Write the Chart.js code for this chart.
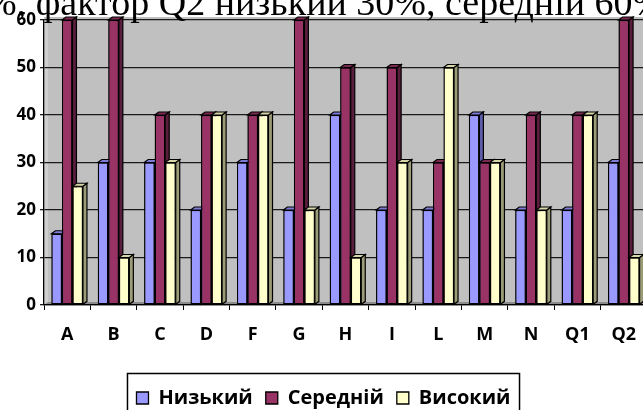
<!DOCTYPE html>
<html>
<head>
<meta charset="utf-8">
<script src="https://cdn.jsdelivr.net/npm/chart.js@4"></script>
<style>
  html, body { margin: 0; padding: 0; background: #fff; overflow: hidden; width: 643px; height: 410px; }
  #wrap { position: relative; width: 643px; height: 410px; overflow: hidden; }
  #title { position: absolute; left: -15px; top: -19px; font-family: "Liberation Serif", "Times New Roman", serif; font-size: 38px; white-space: nowrap; color: #000; line-height: 42px; }
  canvas { position: absolute; left: 0; top: 0; }
</style>
</head>
<body>
<div id="wrap">
  <canvas id="c" width="655" height="418"></canvas>
  <div id="title">%, фактор Q2 низький 30%, середній 60%</div>
</div>
<script>
const categories = ["A", "B", "C", "D", "F", "G", "H", "I", "L", "M", "N", "Q1", "Q2"];
const seriesNames = ["Низький", "Середній", "Високий"];
const lowValues  = [15, 30, 30, 20, 30, 20, 40, 20, 20, 40, 20, 20, 30];
const midValues  = [60, 60, 40, 40, 40, 60, 50, 50, 30, 30, 40, 40, 60];
const highValues = [25, 10, 30, 40, 40, 20, 10, 30, 50, 30, 20, 40, 10];
const yTicks = [0, 10, 20, 30, 40, 50, 60];

const frontColors = ["#9999FF", "#993366", "#FFFFCC"];
const sideColors  = ["#5E5EA8", "#5A1E3C", "#9C9C78"];
const topColors   = ["#7C7CD6", "#7A2950", "#D6D6A8"];
const DX = 4, DY = 3;

const bg3d = {
  id: "bg3d",
  beforeDraw(chart) {
    const {ctx, chartArea: a} = chart;
    ctx.save();
    ctx.fillStyle = "#C0C0C0";
    ctx.fillRect(a.left, a.top - 3, a.right - a.left, a.bottom - a.top + 3);
    ctx.fillStyle = "#CFCFCF";
    ctx.beginPath();
    ctx.moveTo(a.left, a.top);
    ctx.lineTo(a.left + DX, a.top - DY);
    ctx.lineTo(a.left + DX, a.bottom - DY);
    ctx.lineTo(a.left, a.bottom);
    ctx.closePath();
    ctx.fill();
    ctx.fillStyle = "#8C8C8C";
    ctx.beginPath();
    ctx.moveTo(a.left, a.bottom);
    ctx.lineTo(a.left + DX, a.bottom - DY);
    ctx.lineTo(a.right + DX, a.bottom - DY);
    ctx.lineTo(a.right, a.bottom);
    ctx.closePath();
    ctx.fill();
    ctx.restore();
  },
  afterDatasetsDraw(chart) {
    const {ctx} = chart;
    ctx.save();
    const n = chart.data.labels.length;
    for (let k = 0; k < n; k++) {
      for (let i = 0; i < chart.data.datasets.length; i++) {
        const bar = chart.getDatasetMeta(i).data[k];
        if (!bar) continue;
        bar.draw(ctx, chart.chartArea);
        const p = bar.getProps(["x", "y", "base", "width"], true);
        const l = p.x - p.width / 2, r = p.x + p.width / 2;
        ctx.lineWidth = 1.2;
        ctx.strokeStyle = "#000";
        ctx.fillStyle = sideColors[i];
        ctx.beginPath();
        ctx.moveTo(r, p.y);
        ctx.lineTo(r + DX, p.y - DY);
        ctx.lineTo(r + DX, p.base - DY);
        ctx.lineTo(r, p.base);
        ctx.closePath();
        ctx.fill(); ctx.stroke();
        ctx.fillStyle = topColors[i];
        ctx.beginPath();
        ctx.moveTo(l, p.y);
        ctx.lineTo(l + DX, p.y - DY);
        ctx.lineTo(r + DX, p.y - DY);
        ctx.lineTo(r, p.y);
        ctx.closePath();
        ctx.fill(); ctx.stroke();
      }
    }
    ctx.restore();
  },
  afterDraw(chart) {
    const lg = chart.legend;
    if (!lg || !lg.legendHitBoxes || !lg.legendHitBoxes.length) return;
    const hb = lg.legendHitBoxes;
    const x0 = hb[0].left - 9;
    const last = hb[hb.length - 1];
    const x1 = last.left + last.width + 9;
    const {ctx} = chart;
    ctx.save();
    ctx.strokeStyle = "#000";
    ctx.lineWidth = 1.5;
    ctx.strokeRect(x0, lg.top - 1.5, x1 - x0, lg.bottom - lg.top + 10);
    ctx.restore();
  }
};

const mk = (idx, data) => ({
  label: seriesNames[idx],
  data: data,
  backgroundColor: frontColors[idx],
  borderColor: "#000",
  borderWidth: 1.3,
  borderSkipped: false,
  categoryPercentage: 0.68,
  barPercentage: 1.0
});

new Chart(document.getElementById("c"), {
  type: "bar",
  data: {
    labels: categories,
    datasets: [mk(0, lowValues), mk(1, midValues), mk(2, highValues)]
  },
  options: {
    responsive: false,
    animation: false,
    devicePixelRatio: 1,
    layout: { padding: { left: 0, right: 8, top: 20, bottom: 0 } },
    plugins: {
      tooltip: { enabled: false },
      legend: {
        position: "bottom",
        labels: {
          boxWidth: 12,
          boxHeight: 12,
          padding: 13,
          color: "#000",
          font: { family: "'Open Sans', sans-serif", weight: "bold", size: 20 }
        }
      }
    },
    scales: {
      x: {
        grid: { drawOnChartArea: false, drawTicks: true, tickLength: 5, color: "#000", offset: true },
        border: { display: true, color: "#000", width: 1.3 },
        ticks: { color: "#000", padding: 14, font: { family: "'Open Sans', sans-serif", weight: "bold", size: 18 }, maxRotation: 0, autoSkip: false },
        afterFit(scale) { scale.height = 70; }
      },
      y: {
        min: 0,
        max: 60,
        afterBuildTicks(scale) { scale.ticks = yTicks.map(v => ({ value: v })); },
        grid: { color: "#1a1a1a", lineWidth: 1.3, tickLength: 4 },
        border: { display: true, color: "#000", width: 1.3 },
        ticks: { color: "#000", padding: 4, font: { family: "'Open Sans', sans-serif", weight: "bold", size: 17 } },
        afterFit(scale) { scale.width = 44; }
      }
    }
  },
  plugins: [bg3d]
});
</script>
</body>
</html>
